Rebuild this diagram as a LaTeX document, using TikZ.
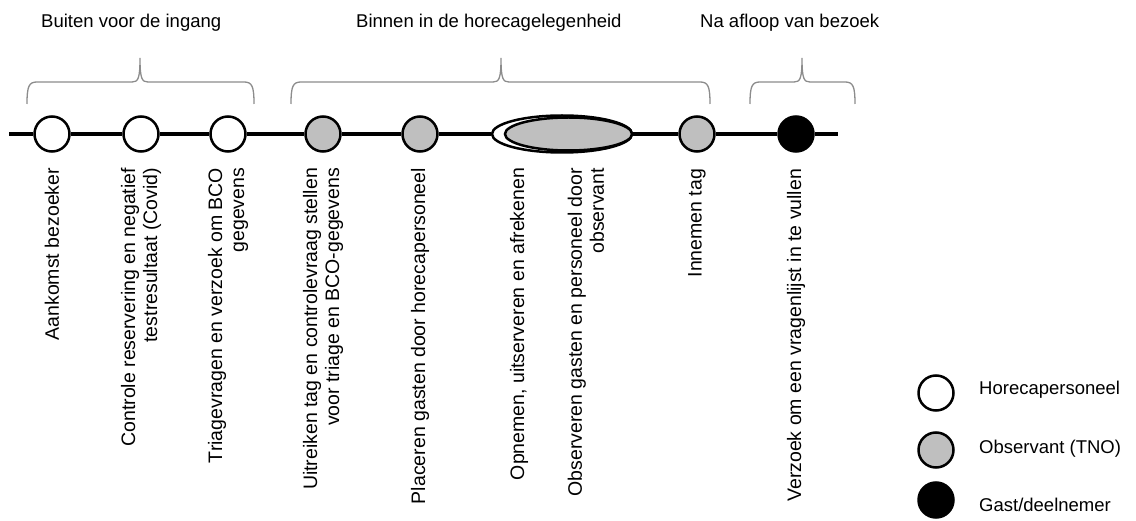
\documentclass[tikz,border=0pt]{standalone}
\usepackage{fontspec}
\setmainfont{Liberation Sans}
\usepackage{tikz}
\usetikzlibrary{shapes.geometric}
\definecolor{obsgray}{HTML}{BFBFBF}
\definecolor{bracegray}{HTML}{8C8C8C}
\tikzset{
	wdot/.style={circle,draw,line width=2.5pt,fill=white,minimum size=35pt,inner sep=0pt},
	gdot/.style={circle,draw,line width=2.5pt,fill=obsgray,minimum size=35pt,inner sep=0pt},
	bdot/.style={circle,draw,line width=2.5pt,fill=black,minimum size=35pt,inner sep=0pt},
	lbl/.style={rotate=90,anchor=east,align=right,inner sep=0pt,font=\fontsize{19.5}{22}\selectfont},
	ttl/.style={anchor=base west,inner sep=0pt,font=\fontsize{18.5}{22}\selectfont},
	legtxt/.style={anchor=west,inner sep=0pt,font=\fontsize{18.5}{22}\selectfont},
	bracketline/.style={bracegray,line width=1.3pt}
}
\newcommand{\bracket}[3]{%
	\draw[bracketline] (#1,104) .. controls (#1,86) and (#1+2,82) .. (#1+10,82) -- (#2-8,82)
		.. controls (#2-2,82) and (#2,79) .. (#2,58)
		.. controls (#2,79) and (#2+2,82) .. (#2+8,82) -- (#3-10,82)
		.. controls (#3-2,82) and (#3,86) .. (#3,104);
}

\begin{document}
\begin{tikzpicture}[x=1pt,y=-1pt]
	\useasboundingbox (0,0) rectangle (1136,521);

	% titels en accolades
	\node[ttl] (t1) at (41,28) {Buiten voor de ingang};
	\node[ttl] (t2) at (356,28) {Binnen in de horecagelegenheid};
	\node[ttl] (t3) at (700,28) {Na afloop van bezoek};
	\bracket{27}{140}{254}
	\bracket{291}{501}{710}
	\bracket{750}{802}{855}

	% tijdlijn
	\coordinate (start) at (9,134);
	\coordinate (end) at (838,134);
	\node [wdot] (c1) at (52,134) {};
	\node [wdot] (c2) at (141,134) {};
	\node [wdot] (c3) at (228,134) {};
	\node [gdot] (c4) at (323,134) {};
	\node [gdot] (c5) at (420,134) {};
	\node [ellipse,draw,line width=2.5pt,fill=white,minimum width=140pt,minimum height=37pt,inner sep=0pt] (e1) at (562,134) {};
	\node [ellipse,draw,line width=2.5pt,fill=obsgray,minimum width=127pt,minimum height=33pt,inner sep=0pt] (e2) at (568.5,134) {};
	\node [gdot] (c6) at (697,134) {};
	\node [bdot] (c7) at (796,134) {};

	\draw [line width=4pt] (start) -- (c1) -- (c2) -- (c3) -- (c4) -- (c5) -- (e1);
	\draw [line width=4pt] (e1) -- (c6) -- (c7) -- (end);

	% stappen
	\node[lbl] (l1) at ([yshift=-15pt]c1.south) {Aankomst bezoeker};
	\node[lbl] (l2) at ([yshift=-15pt]c2.south) {Controle reservering en negatief\\testresultaat (Covid)};
	\node[lbl] (l3) at ([yshift=-15pt]c3.south) {Triagevragen en verzoek om BCO\\gegevens};
	\node[lbl] (l4) at ([yshift=-15pt]c4.south) {Uitreiken tag en controlevraag stellen\\voor triage en BCO-gegevens};
	\node[lbl] (l5) at ([yshift=-15pt]c5.south) {Placeren gasten door horecapersoneel};
	\node[lbl] (l6) at ([xshift=-43pt,yshift=-14pt]e1.south) {Opnemen, uitserveren en afrekenen};
	\node[lbl] (l7) at ([xshift=24pt,yshift=-14pt]e1.south) {Observeren gasten en personeel door\\observant};
	\node[lbl] (l8) at ([yshift=-16pt]c6.south) {Innemen tag};
	\node[lbl] (l9) at ([yshift=-16pt]c7.south) {Verzoek om een vragenlijst in te vullen};

	% legenda
	\node [wdot] (k1) at (936,393) {};
	\node [gdot] (k2) at (936,450) {};
	\node [bdot] (k3) at (936,500) {};
	\node[legtxt] (k1t) at (979,390) {Horecapersoneel};
	\node[legtxt] (k2t) at (979,449) {Observant (TNO)};
	\node[legtxt] (k3t) at (979,505) {Gast/deelnemer};
\end{tikzpicture}
\end{document}
